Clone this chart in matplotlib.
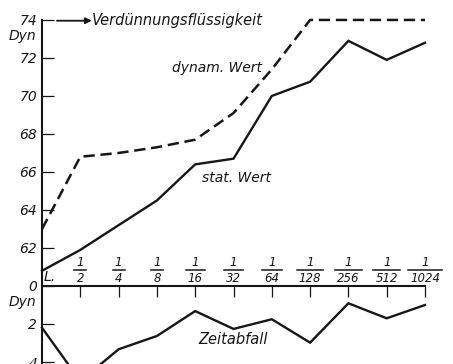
import numpy as np
import matplotlib
matplotlib.use('Agg')
import matplotlib.pyplot as plt

plt.rcParams['font.family'] = ['DejaVu Sans']
plt.rcParams['font.style'] = 'italic'

# Verdünnungsstufen: L. = unverdünnte Lösung, dann 1/2 ... 1/1024
nenner = ['2', '4', '8', '16', '32', '64', '128', '256', '512', '1024']

# Oberflächenspannung in Dyn
stat_wert = [60.8, 61.9, 63.2, 64.5, 66.4, 66.7, 70.0, 70.75, 72.9, 71.9, 72.8]
dynam_wert = [63.0, 66.8, 67.0, 67.3, 67.7, 69.1, 71.4, 74.0, 74.0, 74.0, 74.0]
# Differenz (Zeitabfall) in Dyn, nach unten aufgetragen
zeitabfall = [2.2, 5.0, 3.33, 2.63, 1.32, 2.26, 1.75, 2.98, 0.91, 1.7, 1.0]

obere_ticks = [74, 72, 70, 68, 66, 64, 62]
untere_ticks = [0, 2, 4]

BASIS = 60  # Achse unterbrochen: die Null steht an der Stelle von 60
farbe = '#161616'

x = np.arange(len(stat_wert))

fig = plt.figure(figsize=(4.53, 3.64), dpi=100)
ax = fig.add_axes([0, 0, 1, 1])
ax.set_xlim(-1.097, 10.731)
ax.set_ylim(-4.105, 15.05)

ax.plot(x, np.array(stat_wert) - BASIS, color=farbe, lw=1.7, solid_joinstyle='miter')
ax.plot(x, np.array(dynam_wert) - BASIS, color=farbe, lw=1.8, dashes=(4.5, 2.3))
ax.plot(x, -np.array(zeitabfall), color=farbe, lw=1.7, solid_joinstyle='miter')

# Achsen
for s in ['top', 'right']:
    ax.spines[s].set_visible(False)
ax.spines['left'].set_position(('data', 0))
ax.spines['bottom'].set_position(('data', 0))
ax.spines['left'].set_bounds(-4.2, 14)
ax.spines['bottom'].set_bounds(0, 10)
for s in ['left', 'bottom']:
    ax.spines[s].set_linewidth(1.5)
    ax.spines[s].set_color(farbe)

yt = [v - BASIS for v in obere_ticks] + [-v for v in untere_ticks]
yl = [str(v) for v in obere_ticks] + [str(v) for v in untere_ticks]
ax.set_yticks(yt)
ax.set_yticklabels(yl)
ax.tick_params(axis='y', direction='in', length=8.5, width=0.9, pad=3.5,
               labelsize=10, colors=farbe)
ax.set_xticks(x[1:])
ax.set_xticklabels([])
ax.tick_params(axis='x', direction='out', length=8, width=0.9, colors=farbe)

# Brüche über der Abszisse
for i, d in zip(x[1:], nenner):
    ax.text(i, 1.22, '1', ha='center', va='center', fontsize=8.5, color=farbe)
    ax.text(i, 0.42, d, ha='center', va='center', fontsize=8.5, color=farbe)
    b = (3.6 * len(d) + 2.5) / 38.3
    ax.plot([i - b, i + b], [0.84, 0.84], color=farbe, lw=1.1)
ax.text(0.05, 0.1, 'L.', ha='left', va='bottom', fontsize=10, color=farbe)

ax.text(-0.16, 13.15, 'Dyn', ha='right', va='center', fontsize=10, color=farbe)
ax.text(-0.16, -0.84, 'Dyn', ha='right', va='center', fontsize=10, color=farbe)

ax.annotate('', xy=(1.3, 13.96), xytext=(0.39, 13.96),
            arrowprops=dict(arrowstyle='-|>', color=farbe, lw=1.3,
                            mutation_scale=9, shrinkA=0, shrinkB=0))
ax.text(1.31, 13.96, 'Verdünnungsflüssigkeit', ha='left', va='center',
        fontsize=10.5, color=farbe)
ax.text(3.39, 11.47, 'dynam. Wert', ha='left', va='center', fontsize=10, color=farbe)
ax.text(4.18, 5.68, 'stat. Wert', ha='left', va='center', fontsize=10, color=farbe)
ax.text(4.07, -2.84, 'Zeitabfall', ha='left', va='center', fontsize=10.5, color=farbe)

fig.savefig('out.png', dpi=100)
